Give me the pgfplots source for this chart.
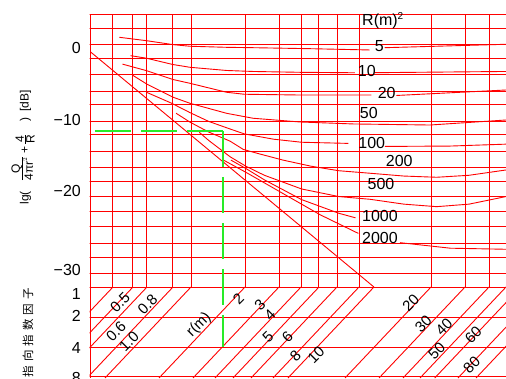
\documentclass[border=0pt]{standalone}
\usepackage{fontspec}
\setmainfont{Liberation Sans}
\newfontfamily\cjk{Noto Sans CJK SC}
\usepackage{pgfplots}
\pgfplotsset{compat=1.18}
\definecolor{cadred}{RGB}{255,0,0}
\definecolor{cadgreen}{RGB}{40,235,40}
\begin{document}
\begin{tikzpicture}[x=1pt,y=1pt]
\useasboundingbox (0pt,0pt) rectangle (506pt,378pt);
\begin{axis}[
  at={(89.7pt,0pt)}, anchor=south west,
  scale only axis, width=416.3pt, height=378pt,
  xmin=-0.5392, xmax=1.6989, ymin=-43.89, ymax=5.88,
  axis line style={draw=none},
  xtick=\empty,
  ytick={-0.5,-9.98,-19.27,-29.67,-32.83,-35.73,-39.94,-43.89},
  yticklabels={0,−10,−20,−30,1,2,4,8},
  major tick length=0pt,
  yticklabel style={anchor=east, inner sep=0pt, xshift=-8.7pt, font=\fontsize{16}{16}\selectfont},
  clip=true,
  gl/.style={draw=cadred, line width=0.9pt, mark=none},
  vl/.style={draw=cadred, line width=1.0pt, mark=none},
]
% horizontal grid: every 2 dB from +4 to -32, then the rows Q = 2, 4, 8
\pgfplotsinvokeforeach{3.905,2.062,-0.045,-1.888,-3.995,-6.102,-7.945,-10.052,-11.895,-14.002,-16.109,-17.952,-20.058,-21.902,-24.008,-26.115,-27.959,-30.065,-31.909,-35.859,-39.809,-43.758}{
  \addplot[vl] coordinates {(-0.6,#1) (1.8,#1)};
}
% left border
\addplot[vl] coordinates {(-0.5323,3.905) (-0.5323,-43.89)};
% vertical lines r = 0.4 0.5 0.6 0.8 1 2 3 4 5 6 8 20 30 40
\pgfplotsinvokeforeach{-0.4140,-0.3065,-0.2312,-0.0914,0.0054,0.2957,0.4785,0.5968,0.6935,0.7903,0.9086,1.2957,1.4785,1.6075}{
  \addplot[vl] coordinates {(#1,3.905) (#1,-31.909)};
}
% diagonals of the Q nomogram
\pgfplotsinvokeforeach{-0.4140,-0.3065,-0.2312,-0.0914,0.0054,0.2957,0.4785,0.5968,0.6935,0.7903,0.9086,0.989,1.2957,1.4785,1.6075,1.699,1.778,1.903,2.0}{
  \addplot[gl] coordinates {(#1,-31.909) ({#1-0.4623},-43.89)};
}
% direct field line
\addplot[gl] coordinates {(-0.534,-0.97) (0.989,-31.909)};
% R = 5
\addplot[gl] coordinates {(-0.380,0.97) (-0.233,0.52) (-0.090,0.00) (0,-0.21) (0.197,-0.35) (0.339,-0.40) (0.645,-0.53) (0.966,-0.70)};
\addplot[gl] coordinates {(1.047,-0.40) (1.699,0.05)};
% R = 10
\addplot[gl] coordinates {(-0.319,-1.45) (-0.233,-1.79) (-0.093,-2.61) (0,-2.98) (0.197,-3.40) (0.339,-3.53) (0.591,-3.64) (0.887,-3.70)};
\addplot[gl] coordinates {(0.993,-3.69) (1.699,-3.53)};
% R = 20
\addplot[gl] coordinates {(-0.363,-2.56) (-0.233,-3.43) (-0.091,-4.59) (0,-5.09) (0.197,-6.27) (0.292,-6.53) (0.591,-6.63) (0.975,-6.63)};
\addplot[gl] coordinates {(1.110,-6.69) (1.699,-5.97)};
% R = 50
\addplot[gl] coordinates {(-0.306,-4.06) (-0.233,-5.18) (-0.090,-6.93) (0,-7.72) (0.197,-9.04) (0.339,-9.69) (0.591,-10.18) (0.876,-10.44) (1.290,-10.58) (1.699,-9.92)};
% R = 100
\addplot[gl] coordinates {(-0.231,-6.30) (-0.1,-7.7) (0,-8.95) (0.1,-10.1) (0.215,-11.1) (0.292,-11.75) (0.45,-12.45) (0.6,-12.85) (0.851,-13.0)};
\addplot[gl] coordinates {(1.048,-13.4) (1.4,-13.35) (1.699,-13.1)};
% R = 200
\addplot[gl] coordinates {(-0.075,-9.03) (0,-10.2) (0.1,-11.5) (0.215,-12.7) (0.287,-13.8) (0.376,-14.4) (0.5,-15.2) (0.65,-16.0) (0.8,-16.6) (0.968,-16.93) (1.15,-17.3) (1.326,-17.46) (1.5,-17.2) (1.699,-16.5)};
% R = 500
\addplot[gl] coordinates {(0.05,-11.54) (0.1,-12.6) (0.215,-14.75) (0.3,-16.0) (0.4,-17.2) (0.6,-19.0) (0.8,-20.0) (0.968,-20.36) (1.15,-21.0) (1.326,-21.33) (1.5,-21.0) (1.699,-20.0)};
% R = 1000
\addplot[gl] coordinates {(0.22,-15.2) (0.3,-16.3) (0.4,-17.8) (0.6,-20.4) (0.8,-22.2) (0.89,-22.8)};
% R = 2000
\addplot[gl] coordinates {(0.18,-15.2) (0.3,-16.8) (0.5,-19.6) (0.7,-22.4) (0.905,-24.85)};
\addplot[gl] coordinates {(1.129,-26.07) (1.4,-26.8) (1.699,-26.94)};
% worked example (green dashed)
\addplot[draw=cadgreen, line width=1.1pt, mark=none, dash pattern=on 36pt off 10pt] coordinates {(0.1774,-11.368) (-0.534,-11.368)};
\addplot[draw=cadgreen, line width=1.1pt, mark=none, dash pattern=on 36pt off 10pt] coordinates {(0.1774,-11.368) (0.1774,-39.809)};
\end{axis}
% curve labels
\begin{scope}[every node/.style={font=\fontsize{16}{16}\selectfont, inner sep=0pt}]
\node at (379.3pt,331.7pt) {5};
\node at (366.8pt,306.8pt) {10};
\node at (386.7pt,284.7pt) {20};
\node at (368.8pt,265pt) {50};
\node at (371.8pt,234.7pt) {100};
\node at (399.3pt,217.2pt) {200};
\node at (381pt,194pt) {500};
\node at (380pt,162.5pt) {1000};
\node at (380pt,139.7pt) {2000};
\node at (383pt,357pt) {R(m)$^{\mbox{\fontsize{10}{10}\selectfont 2}}$};
\end{scope}
\begin{scope}[every node/.style={font=\fontsize{15}{15}\selectfont, inner sep=0pt, rotate=45}]
\node at (120pt,76pt) {0.5};
\node at (147.5pt,74pt) {0.8};
\node at (116pt,46.3pt) {0.6};
\node at (129pt,36.3pt) {1.0};
\node at (199pt,53pt) {r(m)};
\node at (238.3pt,79pt) {2};
\node at (260pt,73pt) {3};
\node at (270pt,63pt) {4};
\node at (268pt,41.3pt) {5};
\node at (287.5pt,41.3pt) {6};
\node at (295.3pt,22pt) {8};
\node at (316pt,23pt) {10};
\node at (410.8pt,75.5pt) {20};
\node at (423.3pt,54pt) {30};
\node at (444pt,51.3pt) {40};
\node at (436.7pt,27.2pt) {50};
\node at (473.3pt,43pt) {60};
\node at (471.7pt,13pt) {80};
\end{scope}
% axis titles
\node[rotate=90, inner sep=0pt, font=\fontsize{12}{12}\selectfont] at (23pt,230.5pt) {lg(\hspace{10pt}\raisebox{3pt}{$\frac{\mbox{Q}}{\mbox{4πr}^2}$}\hspace{2pt}+\hspace{2pt}$\frac{\mbox{4}}{\mbox{R}}$\hspace{12pt})\hspace{6pt}[dB]};
\node[rotate=90, anchor=west, inner sep=0pt, font=\cjk\fontsize{11.5}{11.5}\selectfont] at (28pt,0.5pt) {指\hspace{4pt}向\hspace{4pt}指\hspace{4pt}数\hspace{4pt}因\hspace{4pt}子};
\end{tikzpicture}
\end{document}
